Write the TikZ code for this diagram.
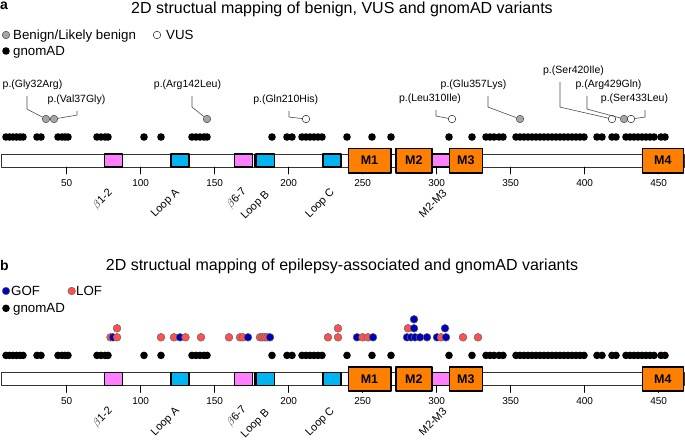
\documentclass[tikz,border=0pt]{standalone}
\usepackage{fontspec}
\setmainfont{Liberation Sans}
\definecolor{benigngray}{RGB}{165,165,165}
\definecolor{betapink}{RGB}{255,128,255}
\definecolor{loopcyan}{RGB}{0,180,240}
\definecolor{tmorange}{RGB}{255,128,0}
\definecolor{gofblue}{RGB}{0,0,185}
\definecolor{lofred}{RGB}{255,80,80}
\begin{document}
\begin{tikzpicture}[x=1pt,y=1pt,line cap=round,line join=round,
  font=\fontsize{10.5}{12.5}\selectfont,
  title/.style={font=\fontsize{16}{19}\selectfont,inner sep=0pt,anchor=base},
  panlbl/.style={font=\bfseries\fontsize{14}{16}\selectfont,inner sep=0pt,anchor=base west},
  lgtxt/.style={font=\fontsize{13.3}{15}\selectfont,inner sep=0pt,anchor=base west},
  dot/.style={circle,inner sep=0pt,minimum size=7.6pt,line width=.5pt},
  benign/.style={dot,draw=black!70,fill=benigngray},
  vus/.style={dot,draw=black!85,fill=white},
  gnomad/.style={dot,fill=black},
  gof/.style={dot,draw=black!60,fill=gofblue},
  lof/.style={dot,draw=black!60,fill=lofred},
  varlbl/.style={inner sep=1pt},
  leader/.style={draw=black!70,line width=.6pt},
  dombox/.style={draw=black,line width=1.1pt},
  tmbox/.style={draw=black,line width=1.6pt,fill=tmorange,inner sep=0pt,
    minimum height=24.4pt,font=\bfseries\fontsize{12.5}{14}\selectfont},
  domlbl/.style={anchor=east,rotate=45,inner sep=0pt,font=\fontsize{11}{13}\selectfont},
  ticklbl/.style={inner sep=0pt,font=\fontsize{10}{12}\selectfont}]
  \useasboundingbox (0,0) rectangle (685,-441);
  % titles and legends
  \node[panlbl] (pa) at (0,-10) {a};
  \node[title] (tita) at (342,-14) {2D structual mapping of benign, VUS and gnomAD variants};
  \node[benign] (lgben) at (6,-35) {};
  \node[lgtxt] (lgbentxt) at (13,-39.5) {Benign/Likely benign};
  \node[vus] (lgvus) at (157,-35) {};
  \node[lgtxt] (lgvustxt) at (166,-39.5) {VUS};
  \node[gnomad] (lggna) at (6,-51) {};
  \node[lgtxt] (lggnatxt) at (13,-55.3) {gnomAD};
  \node[panlbl] (pb) at (0,-270) {b};
  \node[title] (titb) at (342,-270) {2D structual mapping of epilepsy-associated and gnomAD variants};
  \node[gof] (lggof) at (6,-291) {};
  \node[lgtxt] (lggoftxt) at (11,-295.8) {GOF};
  \node[lof] (lglof) at (71.7,-291) {};
  \node[lgtxt] (lgloftxt) at (76,-295.8) {LOF};
  \node[gnomad] (lggnb) at (6,-308.3) {};
  \node[lgtxt] (lggnbtxt) at (13,-312.7) {gnomAD};
  % the two subunit bars with gnomAD variants
  \foreach \y/\p in {0/a,-218.4/b}{
    \begin{scope}[shift={(0,\y)}]
      \foreach \x in {6,9.5,13,16.5,20,23,37,41,58,62,65,68,97,101,105,108,
          144,161,192,196,200,204,207,272,287,292,302,306,310,314,318,322,
          347,372,391,449,472,486,490,494,499,503,516,520,...,584,
          597,602,612,616,626,630,...,654,661,665}
        \fill (\x,-137) circle[radius=3.8];
      \draw[black!80,line width=.9pt,fill=white] (1,-154) rectangle (684,-167);
      \foreach \t in {50,100,...,450}{
        \draw[line width=.8pt] ({66.7+1.48*(\t-50)},-167) -- ++(0,-7);
        \node[ticklbl] (t\t\p) at ({66.7+1.48*(\t-50)},-183) {\t};
      }
      \draw[dombox,fill=betapink] (104.3,-154) rectangle (122.3,-167);
      \draw[dombox,fill=loopcyan] (171,-154) rectangle (189,-167);
      \draw[dombox,fill=betapink] (234.3,-154) rectangle (252.7,-167);
      \draw[line width=.5pt] (254.2,-154) -- (254.2,-167);
      \draw[dombox,fill=loopcyan] (256,-154) rectangle (274.3,-167);
      \draw[dombox,fill=loopcyan] (323,-154) rectangle (341,-167);
      \draw[dombox,fill=betapink] (431.7,-154) rectangle (449.3,-167);
      \node[tmbox,minimum width=42.4pt] (m1\p) at (369.5,-160.5) {M1};
      \node[tmbox,minimum width=35.7pt] (m2\p) at (413.9,-160.5) {M2};
      \node[tmbox,minimum width=33pt] (m3\p) at (465.8,-160.5) {M3};
      \node[tmbox,minimum width=41pt] (m4\p) at (662.8,-160.5) {M4};
      \node[domlbl] (b12\p) at (111,-191) {$\beta$1-2};
      \node[domlbl] (lpa\p) at (178,-191) {Loop A};
      \node[domlbl] (b67\p) at (245,-190) {$\beta$6-7};
      \node[domlbl] (lpb\p) at (268,-193) {Loop B};
      \node[domlbl] (lpc\p) at (333,-191) {Loop C};
      \node[domlbl] (m23\p) at (445,-191) {M2-M3};
    \end{scope}
  }
  % (a): benign and VUS variants with their labels
  \node[benign] (c32) at (46,-119) {};
  \node[benign] (c37) at (54,-119) {};
  \node[benign] (c142) at (207,-119) {};
  \node[vus] (c210) at (306,-119) {};
  \node[vus] (c310) at (452,-119) {};
  \node[benign] (c357) at (520,-119) {};
  \node[vus] (c420) at (612,-119) {};
  \node[benign] (c429) at (624,-119) {};
  \node[vus] (c433) at (631,-119) {};
  \node[varlbl] (g32) at (32.5,-85) {p.(Gly32Arg)};
  \node[varlbl] (v37) at (76.5,-100) {p.(Val37Gly)};
  \node[varlbl] (r142) at (187.5,-85) {p.(Arg142Leu)};
  \node[varlbl] (q210) at (285.7,-100) {p.(Gln210His)};
  \node[varlbl] (l310) at (430,-99) {p.(Leu310Ile)};
  \node[varlbl] (e357) at (473.5,-85) {p.(Glu357Lys)};
  \node[varlbl] (s420) at (573.5,-71) {p.(Ser420Ile)};
  \node[varlbl] (r429) at (608.5,-85) {p.(Arg429Gln)};
  \node[varlbl] (s433) at (634.5,-99) {p.(Ser433Leu)};
  \draw[leader] (g32.south) ++(-5.5,-5) -- ++(0,-13) -- (c32);
  \draw[leader] (v37.south) ++(0.5,-5) -- ++(0,-4) -- (c37);
  \draw[leader] (r142.south) ++(4.5,-5) -- ++(0,-11) -- (c142);
  \draw[leader] (q210.south) ++(3.3,-5) -- ++(0,-6) -- (c210);
  \draw[leader] (l310.south) ++(6,-5) -- ++(0,-6) -- (c310);
  \draw[leader] (e357.south) ++(14.5,-5) -- ++(0,-11) -- (c357);
  \draw[leader] (s420.south) ++(-13.5,-5) -- ++(0,-25) -- (c420);
  \draw[leader] (r429.south) ++(-21.5,-5) -- ++(0,-13) -- (c429);
  \draw[leader] (s433.south) ++(10.5,-5) -- ++(0,-7) -- (c433);
  % (b): epilepsy variants stacked above the gnomAD row
  \foreach \x/\s in {110.5/lof,113/gof,117/lof,161/lof,174/lof,180/gof,185.5/lof,
      201/lof,229/lof,240/lof,243/lof,248/gof,260/lof,262.5/lof,265/lof,
      267.5/lof,270/gof,328/lof,338/lof,357/gof,362.5/lof,368/lof,373/gof,
      407/gof,411/gof,415/gof,420/gof,427/gof,437/gof,441/lof,446/gof,
      463/lof,478/lof}
    \filldraw[\s] (\x,-337.3) circle[radius=3.9];
  \foreach \x/\s in {117/lof,338/lof,408/lof,414/gof,445/gof}
    \filldraw[\s] (\x,-328.3) circle[radius=3.9];
  \filldraw[gof] (414,-319.3) circle[radius=3.9];
\end{tikzpicture}
\end{document}
